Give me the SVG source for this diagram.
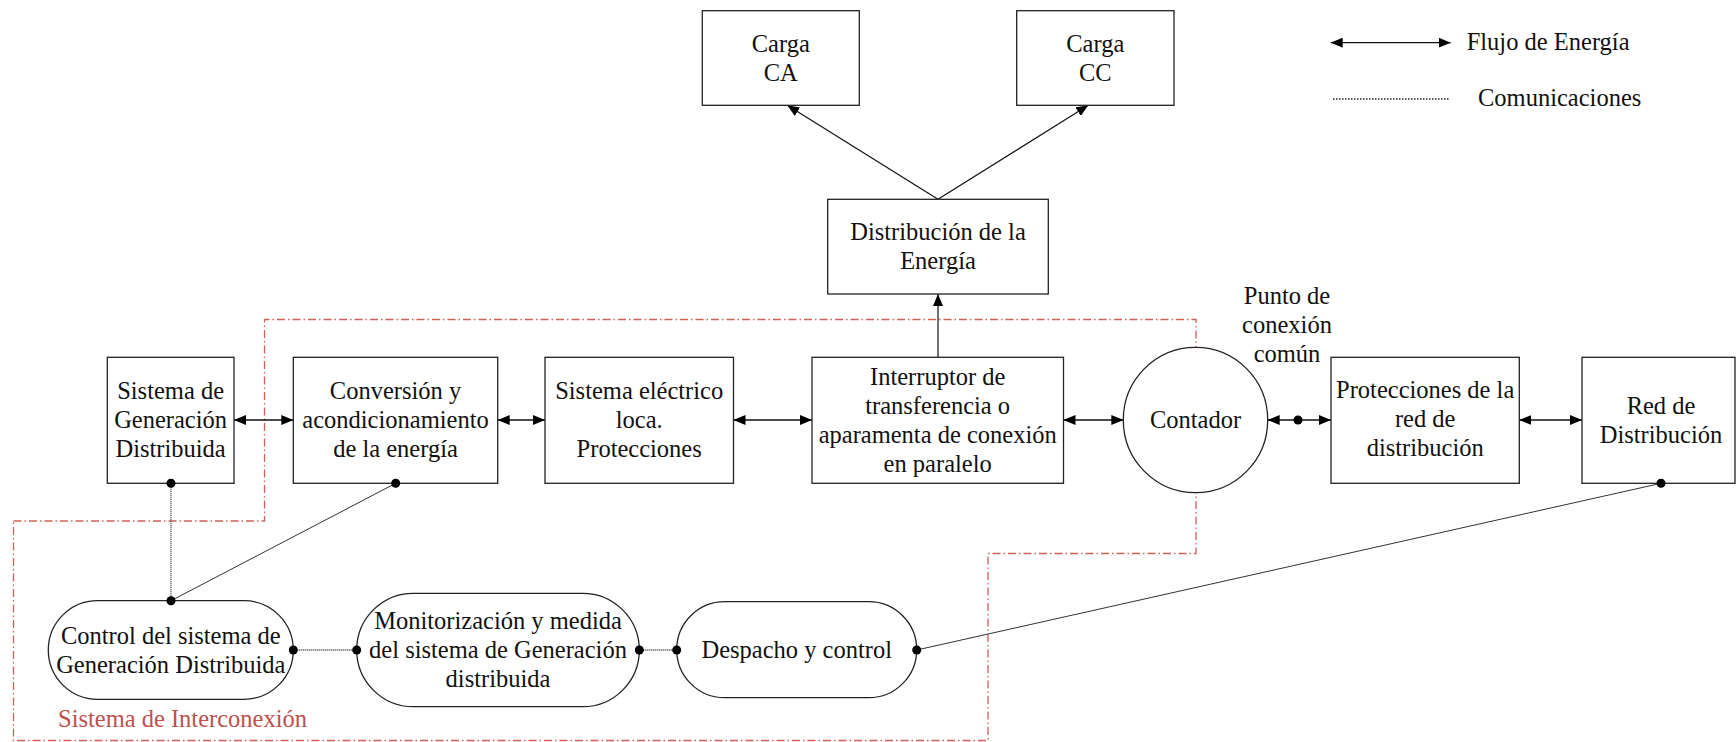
<svg xmlns="http://www.w3.org/2000/svg" width="1736" height="742" viewBox="0 0 1736 742" font-family="'Liberation Serif', 'Times New Roman', serif">
  <style>
    text { font-family: "Liberation Serif", "Times New Roman", serif; font-size: 24.5px; fill: #111; text-anchor: middle; }
    .box { fill: #fff; stroke: #222; stroke-width: 1.3; }
    .flow { fill: none; stroke: #111; stroke-width: 1.3; marker-start: url(#ah); marker-end: url(#ah); }
    .one { fill: none; stroke: #111; stroke-width: 1.2; marker-end: url(#ah); }
    .dotted { fill: none; stroke: #333; stroke-width: 1.3; stroke-dasharray: 1 1; }
    .thin { fill: none; stroke: #333; stroke-width: 1; }
    .dot { fill: #000; }
    .zone { fill: none; stroke: #d0605a; stroke-width: 1.3; stroke-dasharray: 8 3 1.5 3; }
    .zone-label { fill: #c0504d; text-anchor: start; }
    .legend { text-anchor: start; }
  </style>
  <defs>
    <marker id="ah" viewBox="0 0 12 10" refX="12" refY="5" markerWidth="12" markerHeight="10" markerUnits="userSpaceOnUse" orient="auto-start-reverse">
      <path d="M0,0 L12,5 L0,10 z" fill="#000"/>
    </marker>
  </defs>

  <rect width="1736" height="742" fill="#fff"/>

  <!-- interconnection system boundary -->
  <path class="zone" d="M13.5,521 H264.5 V319.5 H1196 V553.5 H988 V740.5 H13.5 Z"/>
  <text class="zone-label" x="58" y="726.5">Sistema de Interconexión</text>

  <!-- connectors -->
  <g id="connectors">
    <line class="flow" x1="234" y1="420" x2="293.3" y2="420"/>
    <line class="flow" x1="497.7" y1="420" x2="545" y2="420"/>
    <line class="flow" x1="733.5" y1="420" x2="812" y2="420"/>
    <line class="flow" x1="1063.5" y1="420" x2="1123.3" y2="420"/>
    <line class="flow" x1="1267.7" y1="420" x2="1331" y2="420"/>
    <circle class="dot" cx="1298" cy="420" r="4.5"/>
    <line class="flow" x1="1519.3" y1="420" x2="1582" y2="420"/>
    <line class="one" x1="938" y1="357" x2="938" y2="294"/>
    <line class="one" x1="938" y1="199.3" x2="787.3" y2="105.3"/>
    <line class="one" x1="938" y1="199.3" x2="1088.3" y2="105.3"/>

    <line class="dotted" x1="171" y1="483.3" x2="171" y2="600.7"/>
    <line class="thin" x1="395.7" y1="483.3" x2="171" y2="600.7"/>
    <line class="dotted" x1="293.3" y1="650" x2="356.7" y2="650"/>
    <line class="dotted" x1="639.3" y1="650" x2="676.7" y2="650"/>
    <line class="thin" x1="916.7" y1="650" x2="1661" y2="483.3"/>
  </g>

  <!-- loads -->
  <g id="carga-ca">
    <rect class="box" x="702.3" y="10.7" width="157" height="94.6"/>
    <text x="780.8" y="51.5">Carga</text>
    <text x="780.8" y="80.5">CA</text>
  </g>
  <g id="carga-cc">
    <rect class="box" x="1016.7" y="10.7" width="157.3" height="94.6"/>
    <text x="1095.3" y="51.5">Carga</text>
    <text x="1095.3" y="80.5">CC</text>
  </g>
  <g id="distribucion">
    <rect class="box" x="827.7" y="199.3" width="220.6" height="94.7"/>
    <text x="938" y="240.2">Distribución de la</text>
    <text x="938" y="269.2">Energía</text>
  </g>

  <!-- main power chain -->
  <g id="generacion">
    <rect class="box" x="107.3" y="357.3" width="126.7" height="126"/>
    <text x="170.6" y="399.3">Sistema de</text>
    <text x="170.6" y="428.3">Generación</text>
    <text x="170.6" y="457.3">Distribuida</text>
    <circle class="dot" cx="171" cy="483.3" r="4.5"/>
  </g>
  <g id="conversion">
    <rect class="box" x="293.3" y="357.3" width="204.4" height="126"/>
    <text x="395.5" y="399.3">Conversión y</text>
    <text x="395.5" y="428.3">acondicionamiento</text>
    <text x="395.5" y="457.3">de la energía</text>
    <circle class="dot" cx="395.7" cy="483.3" r="4.5"/>
  </g>
  <g id="sistema-electrico">
    <rect class="box" x="545" y="357.3" width="188.5" height="126"/>
    <text x="639.2" y="399.3">Sistema eléctrico</text>
    <text x="639.2" y="428.3">loca.</text>
    <text x="639.2" y="457.3">Protecciones</text>
  </g>
  <g id="interruptor">
    <rect class="box" x="812" y="357.3" width="251.5" height="126"/>
    <text x="937.7" y="384.5">Interruptor de</text>
    <text x="937.7" y="413.5">transferencia o</text>
    <text x="937.7" y="442.5">aparamenta de conexión</text>
    <text x="937.7" y="471.5">en paralelo</text>
  </g>
  <g id="contador">
    <ellipse class="box" cx="1195.5" cy="420" rx="72.2" ry="72.7"/>
    <text x="1195.5" y="428.3">Contador</text>
  </g>
  <g id="punto-conexion">
    <text x="1287" y="303.5">Punto de</text>
    <text x="1287" y="332.5">conexión</text>
    <text x="1287" y="361.5">común</text>
  </g>
  <g id="protecciones-red">
    <rect class="box" x="1331" y="357.3" width="188.3" height="126"/>
    <text x="1425.2" y="398.3">Protecciones de la</text>
    <text x="1425.2" y="427.3">red de</text>
    <text x="1425.2" y="456.3">distribución</text>
  </g>
  <g id="red-distribucion">
    <rect class="box" x="1582" y="357.3" width="153" height="126"/>
    <text x="1661" y="413.5">Red de</text>
    <text x="1661" y="442.5">Distribución</text>
    <circle class="dot" cx="1661" cy="483.3" r="4.5"/>
  </g>

  <!-- control and communications -->
  <g id="control-gd">
    <rect class="box" x="48.3" y="600.7" width="245" height="98.6" rx="49.3" ry="49.3"/>
    <text x="170.8" y="643.5">Control del sistema de</text>
    <text x="170.8" y="672.5">Generación Distribuida</text>
    <circle class="dot" cx="171" cy="600.7" r="4.5"/>
    <circle class="dot" cx="293.3" cy="650" r="4.5"/>
  </g>
  <g id="monitorizacion">
    <rect class="box" x="356.7" y="593.3" width="282.6" height="113.4" rx="56.7" ry="56.7"/>
    <text x="498" y="629">Monitorización y medida</text>
    <text x="498" y="658">del sistema de Generación</text>
    <text x="498" y="687">distribuida</text>
    <circle class="dot" cx="356.7" cy="650" r="4.5"/>
    <circle class="dot" cx="639.3" cy="650" r="4.5"/>
  </g>
  <g id="despacho">
    <rect class="box" x="676.7" y="601.7" width="240" height="96" rx="48" ry="48"/>
    <text x="796.7" y="658">Despacho y control</text>
    <circle class="dot" cx="676.7" cy="650" r="4.5"/>
    <circle class="dot" cx="916.7" cy="650" r="4.5"/>
  </g>

  <!-- legend -->
  <g id="legend">
    <line class="flow" x1="1330.7" y1="42.7" x2="1450.7" y2="42.7"/>
    <text class="legend" x="1466.7" y="50">Flujo de Energía</text>
    <line x1="1333" y1="99" x2="1450" y2="99" stroke="#222" stroke-width="1.3" stroke-dasharray="1.5 1.5"/>
    <text class="legend" x="1478" y="105.5">Comunicaciones</text>
  </g>
</svg>
